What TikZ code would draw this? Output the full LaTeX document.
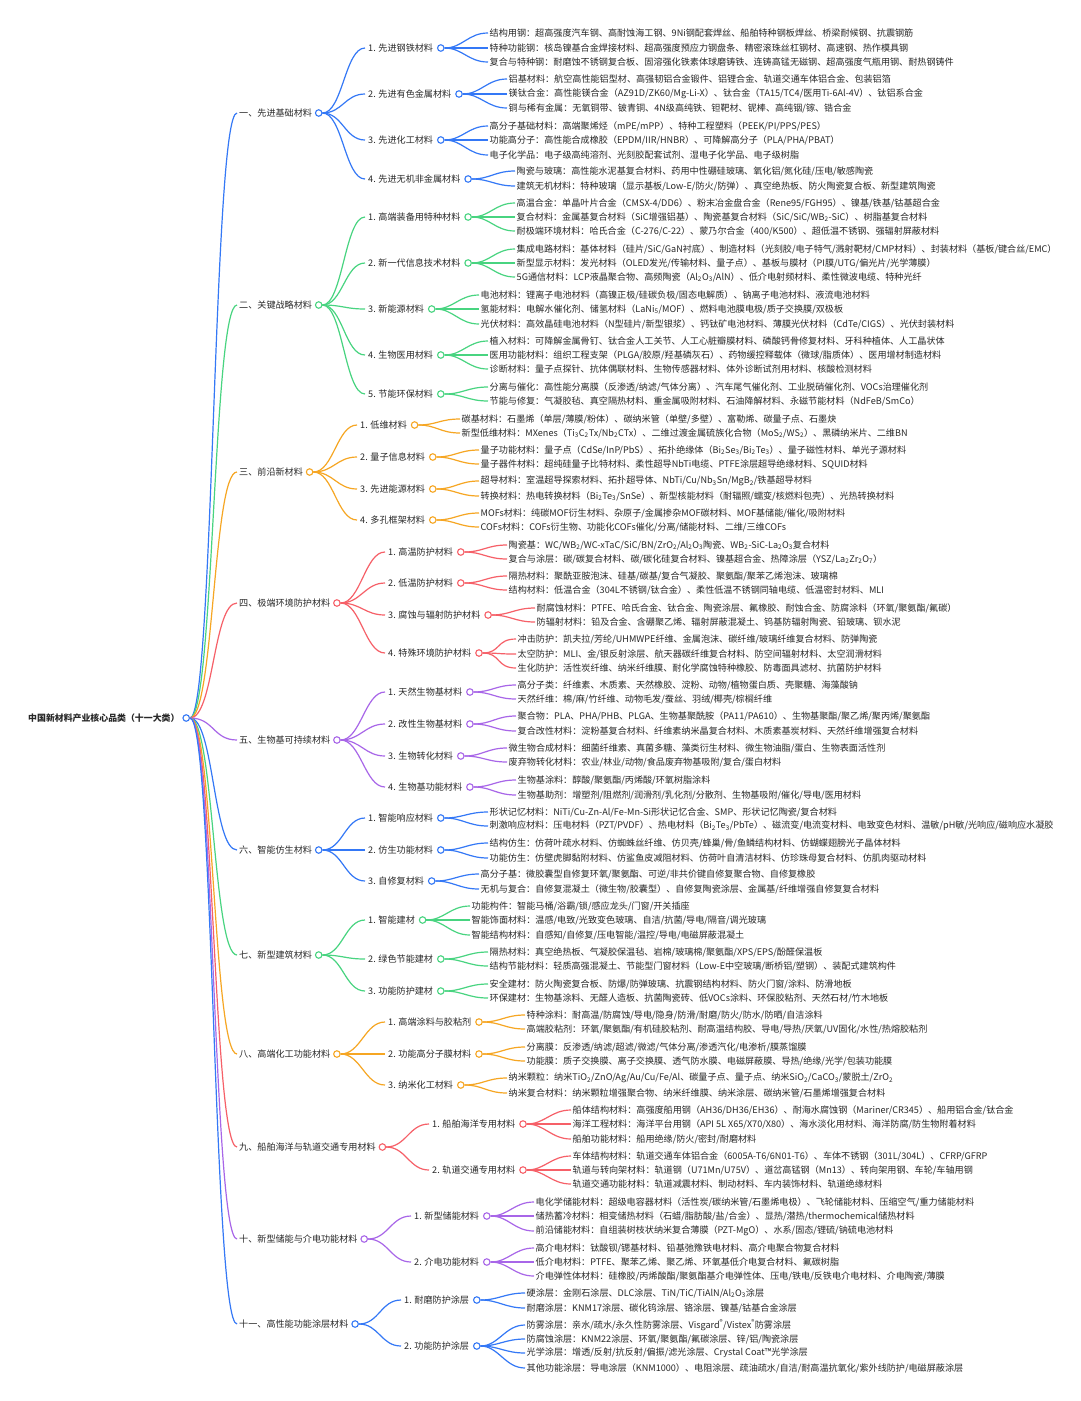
\documentclass[tikz,border=0pt]{standalone}
\usepackage{fontspec}
\setmainfont{Noto Sans CJK SC}
\definecolor{cb}{RGB}{52,120,246}
\definecolor{cg}{RGB}{72,212,128}
\definecolor{co}{RGB}{246,166,35}
\definecolor{cr}{RGB}{246,96,104}
\definecolor{cp}{RGB}{168,102,232}
\definecolor{txt}{RGB}{40,40,40}
\newcommand\sbs[1]{\textsubscript{#1}}
\newcommand\Lone[4]{%
  \node[lone] (#1) at (237,#2) {#3};
  \node[bdot=#4] (#1c) at ([xshift=4.5pt]#1.east) {};
  \draw[cline=#4] (rootc.east) to[out=0,in=180,out distance=24pt,in distance=24pt] (#1.west);
}
\newcommand\Ltwo[6]{%
  \node[ltwo] (#1) at (#3,#4) {#5};
  \node[bdot=#6] (#1c) at ([xshift=4.5pt]#1.east) {};
  \draw[cline=#6] (#2c.east) to[out=0,in=180,out distance=20pt,in distance=20pt] (#1.west);
}
\newcommand\Leaf[6]{%
  \node[lfnode] (#1) at (#3,#4) {#5};
  \draw[cline=#6] (#2c.east) to[out=0,in=180,out distance=18pt,in distance=20pt] (#1.west);
}
\begin{document}
\begin{tikzpicture}[x=1pt,y=-1pt,
  basefont/.style={font=\fontsize{9.1}{11}\selectfont, text=txt},
  lone/.style={basefont, anchor=west, inner sep=2pt},
  ltwo/.style={basefont, anchor=west, inner sep=3pt},
  lfnode/.style={basefont, anchor=west, inner sep=1.5pt},
  rootnode/.style={font=\fontsize{8.9}{11}\selectfont\bfseries, text=txt, anchor=west, inner sep=2pt},
  bdot/.style={circle, draw=#1, fill=white, line width=1.1pt, minimum size=6.5pt, inner sep=0pt},
  cline/.style={draw=#1, line width=1.2pt}]
\fill[white] (0,0) rectangle (1080,1401);
\useasboundingbox (0,0) rectangle (1080,1401);

\node[rootnode] (root) at (26,718) {中国新材料产业核心品类（十一大类）};
\node[bdot=cb] (rootc) at ([xshift=4.5pt]root.east) {};

% 一
\Lone{A}{113}{一、先进基础材料}{cb}
\Ltwo{A1}{A}{365}{48}{1. 先进钢铁材料}{cb}
\Leaf{A11}{A1}{488}{33}{结构用钢：超高强度汽车钢、高耐蚀海工钢、9Ni钢配套焊丝、船舶特种钢板焊丝、桥梁耐候钢、抗震钢筋}{cb}
\Leaf{A12}{A1}{488}{48}{特种功能钢：核岛镍基合金焊接材料、超高强度预应力钢盘条、精密滚珠丝杠钢材、高速钢、热作模具钢}{cb}
\Leaf{A13}{A1}{488}{62}{复合与特种钢：耐磨蚀不锈钢复合板、固溶强化铁素体球磨铸铁、连铸高锰无磁钢、超高强度气瓶用钢、耐热钢铸件}{cb}
\Ltwo{A2}{A}{365}{94}{2. 先进有色金属材料}{cb}
\Leaf{A21}{A2}{507}{79}{铝基材料：航空高性能铝型材、高强韧铝合金锻件、铝锂合金、轨道交通车体铝合金、包装铝箔}{cb}
\Leaf{A22}{A2}{507}{94}{镁钛合金：高性能镁合金（AZ91D/ZK60/Mg-Li-X）、钛合金（TA15/TC4/医用Ti-6Al-4V）、钛铝系合金}{cb}
\Leaf{A23}{A2}{507}{108}{铜与稀有金属：无氧铜带、铍青铜、4N级高纯铁、钽靶材、铌棒、高纯铟/镓、锆合金}{cb}
\Ltwo{A3}{A}{365}{140}{3. 先进化工材料}{cb}
\Leaf{A31}{A3}{488}{126}{高分子基础材料：高端聚烯烃（mPE/mPP）、特种工程塑料（PEEK/PI/PPS/PES）}{cb}
\Leaf{A32}{A3}{488}{140}{功能高分子：高性能合成橡胶（EPDM/IIR/HNBR）、可降解高分子（PLA/PHA/PBAT）}{cb}
\Leaf{A33}{A3}{488}{155}{电子化学品：电子级高纯溶剂、光刻胶配套试剂、湿电子化学品、电子级树脂}{cb}
\Ltwo{A4}{A}{365}{179}{4. 先进无机非金属材料}{cb}
\Leaf{A41}{A4}{515}{171}{陶瓷与玻璃：高性能水泥基复合材料、药用中性硼硅玻璃、氧化铝/氮化硅/压电/敏感陶瓷}{cb}
\Leaf{A42}{A4}{515}{186}{建筑无机材料：特种玻璃（显示基板/Low-E/防火/防弹）、真空绝热板、防火陶瓷复合板、新型建筑陶瓷}{cb}

% 二
\Lone{B}{305}{二、关键战略材料}{cg}
\Ltwo{B1}{B}{365}{217}{1. 高端装备用特种材料}{cg}
\Leaf{B11}{B1}{515}{203}{高温合金：单晶叶片合金（CMSX-4/DD6）、粉末冶金盘合金（Rene95/FGH95）、镍基/铁基/钴基超合金}{cg}
\Leaf{B12}{B1}{515}{217}{复合材料：金属基复合材料（SiC增强铝基）、陶瓷基复合材料（SiC/SiC/WB\sbs{2}-SiC）、树脂基复合材料}{cg}
\Leaf{B13}{B1}{515}{231}{耐极端环境材料：哈氏合金（C-276/C-22）、蒙乃尔合金（400/K500）、超低温不锈钢、强辐射屏蔽材料}{cg}
\Ltwo{B2}{B}{365}{263}{2. 新一代信息技术材料}{cg}
\Leaf{B21}{B2}{515}{249}{集成电路材料：基体材料（硅片/SiC/GaN衬底）、制造材料（光刻胶/电子特气/溅射靶材/CMP材料）、封装材料（基板/键合丝/EMC）}{cg}
\Leaf{B22}{B2}{515}{263}{新型显示材料：发光材料（OLED发光/传输材料、量子点）、基板与膜材（PI膜/UTG/偏光片/光学薄膜）}{cg}
\Leaf{B23}{B2}{515}{277}{5G通信材料：LCP液晶聚合物、高频陶瓷（Al\sbs{2}O\sbs{3}/AlN）、低介电射频材料、柔性微波电缆、特种光纤}{cg}
\Ltwo{B3}{B}{365}{309}{3. 新能源材料}{cg}
\Leaf{B31}{B3}{479}{295}{电池材料：锂离子电池材料（高镍正极/硅碳负极/固态电解质）、钠离子电池材料、液流电池材料}{cg}
\Leaf{B32}{B3}{479}{309}{氢能材料：电解水催化剂、储氢材料（LaNi\sbs{5}/MOF）、燃料电池膜电极/质子交换膜/双极板}{cg}
\Leaf{B33}{B3}{479}{324}{光伏材料：高效晶硅电池材料（N型硅片/新型银浆）、钙钛矿电池材料、薄膜光伏材料（CdTe/CIGS）、光伏封装材料}{cg}
\Ltwo{B4}{B}{365}{355}{4. 生物医用材料}{cg}
\Leaf{B41}{B4}{488}{341}{植入材料：可降解金属骨钉、钛合金人工关节、人工心脏瓣膜材料、磷酸钙骨修复材料、牙科种植体、人工晶状体}{cg}
\Leaf{B42}{B4}{488}{355}{医用功能材料：组织工程支架（PLGA/胶原/羟基磷灰石）、药物缓控释载体（微球/脂质体）、医用增材制造材料}{cg}
\Leaf{B43}{B4}{488}{369}{诊断材料：量子点探针、抗体偶联材料、生物传感器材料、体外诊断试剂用材料、核酸检测材料}{cg}
\Ltwo{B5}{B}{365}{394}{5. 节能环保材料}{cg}
\Leaf{B51}{B5}{488}{387}{分离与催化：高性能分离膜（反渗透/纳滤/气体分离）、汽车尾气催化剂、工业脱硝催化剂、VOCs治理催化剂}{cg}
\Leaf{B52}{B5}{488}{401}{节能与修复：气凝胶毡、真空隔热材料、重金属吸附材料、石油降解材料、永磁节能材料（NdFeB/SmCo）}{cg}

% 三
\Lone{C}{472}{三、前沿新材料}{co}
\Ltwo{C1}{C}{357}{425}{1. 低维材料}{co}
\Leaf{C11}{C1}{460}{419}{碳基材料：石墨烯（单层/薄膜/粉体）、碳纳米管（单壁/多壁）、富勒烯、碳量子点、石墨炔}{co}
\Leaf{C12}{C1}{460}{433}{新型低维材料：MXenes（Ti\sbs{3}C\sbs{2}Tx/Nb\sbs{2}CTx）、二维过渡金属硫族化合物（MoS\sbs{2}/WS\sbs{2}）、黑磷纳米片、二维BN}{co}
\Ltwo{C2}{C}{357}{457}{2. 量子信息材料}{co}
\Leaf{C21}{C2}{479}{450}{量子功能材料：量子点（CdSe/InP/PbS）、拓扑绝缘体（Bi\sbs{2}Se\sbs{3}/Bi\sbs{2}Te\sbs{3}）、量子磁性材料、单光子源材料}{co}
\Leaf{C22}{C2}{479}{464}{量子器件材料：超纯硅量子比特材料、柔性超导NbTi电缆、PTFE涂层超导绝缘材料、SQUID材料}{co}
\Ltwo{C3}{C}{357}{489}{3. 先进能源材料}{co}
\Leaf{C31}{C3}{479}{481}{超导材料：室温超导探索材料、拓扑超导体、NbTi/Cu/Nb\sbs{3}Sn/MgB\sbs{2}/铁基超导材料}{co}
\Leaf{C32}{C3}{479}{496}{转换材料：热电转换材料（Bi\sbs{2}Te\sbs{3}/SnSe）、新型核能材料（耐辐照/蠕变/核燃料包壳）、光热转换材料}{co}
\Ltwo{C4}{C}{357}{520}{4. 多孔框架材料}{co}
\Leaf{C41}{C4}{479}{513}{MOFs材料：纯碳MOF衍生材料、杂原子/金属掺杂MOF碳材料、MOF基储能/催化/吸附材料}{co}
\Leaf{C42}{C4}{479}{527}{COFs材料：COFs衍生物、功能化COFs催化/分离/储能材料、二维/三维COFs}{co}

% 四
\Lone{D}{603}{四、极端环境防护材料}{cr}
\Ltwo{D1}{D}{385}{552}{1. 高温防护材料}{cr}
\Leaf{D11}{D1}{507}{545}{陶瓷基：WC/WB\sbs{2}/WC-xTaC/SiC/BN/ZrO\sbs{2}/Al\sbs{2}O\sbs{3}陶瓷、WB\sbs{2}-SiC-La\sbs{2}O\sbs{3}复合材料}{cr}
\Leaf{D12}{D1}{507}{559}{复合与涂层：碳/碳复合材料、碳/碳化硅复合材料、镍基超合金、热障涂层（YSZ/La\sbs{2}Zr\sbs{2}O\sbs{7}）}{cr}
\Ltwo{D2}{D}{385}{583}{2. 低温防护材料}{cr}
\Leaf{D21}{D2}{507}{576}{隔热材料：聚酰亚胺泡沫、硅基/碳基/复合气凝胶、聚氨酯/聚苯乙烯泡沫、玻璃棉}{cr}
\Leaf{D22}{D2}{507}{590}{结构材料：低温合金（304L不锈钢/钛合金）、柔性低温不锈钢同轴电缆、低温密封材料、MLI}{cr}
\Ltwo{D3}{D}{385}{615}{3. 腐蚀与辐射防护材料}{cr}
\Leaf{D31}{D3}{535}{608}{耐腐蚀材料：PTFE、哈氏合金、钛合金、陶瓷涂层、氟橡胶、耐蚀合金、防腐涂料（环氧/聚氨酯/氟碳）}{cr}
\Leaf{D32}{D3}{535}{622}{防辐射材料：铅及合金、含硼聚乙烯、辐射屏蔽混凝土、钨基防辐射陶瓷、铅玻璃、钡水泥}{cr}
\Ltwo{D4}{D}{385}{653}{4. 特殊环境防护材料}{cr}
\Leaf{D41}{D4}{516}{639}{冲击防护：凯夫拉/芳纶/UHMWPE纤维、金属泡沫、碳纤维/玻璃纤维复合材料、防弹陶瓷}{cr}
\Leaf{D42}{D4}{516}{654}{太空防护：MLI、金/银反射涂层、航天器碳纤维复合材料、防空间辐射材料、太空润滑材料}{cr}
\Leaf{D43}{D4}{516}{668}{生化防护：活性炭纤维、纳米纤维膜、耐化学腐蚀特种橡胶、防毒面具滤材、抗菌防护材料}{cr}

% 五
\Lone{E}{740}{五、生物基可持续材料}{cp}
\Ltwo{E1}{E}{385}{692}{1. 天然生物基材料}{cp}
\Leaf{E11}{E1}{516}{685}{高分子类：纤维素、木质素、天然橡胶、淀粉、动物/植物蛋白质、壳聚糖、海藻酸钠}{cp}
\Leaf{E12}{E1}{516}{699}{天然纤维：棉/麻/竹纤维、动物毛发/蚕丝、羽绒/椰壳/棕榈纤维}{cp}
\Ltwo{E2}{E}{385}{724}{2. 改性生物基材料}{cp}
\Leaf{E21}{E2}{516}{716}{聚合物：PLA、PHA/PHB、PLGA、生物基聚酰胺（PA11/PA610）、生物基聚酯/聚乙烯/聚丙烯/聚氨酯}{cp}
\Leaf{E22}{E2}{516}{731}{复合改性材料：淀粉基复合材料、纤维素纳米晶复合材料、木质素基炭材料、天然纤维增强复合材料}{cp}
\Ltwo{E3}{E}{385}{756}{3. 生物转化材料}{cp}
\Leaf{E31}{E3}{507}{748}{微生物合成材料：细菌纤维素、真菌多糖、藻类衍生材料、微生物油脂/蛋白、生物表面活性剂}{cp}
\Leaf{E32}{E3}{507}{762}{废弃物转化材料：农业/林业/动物/食品废弃物基吸附/复合/蛋白材料}{cp}
\Ltwo{E4}{E}{385}{787}{4. 生物基功能材料}{cp}
\Leaf{E41}{E4}{516}{780}{生物基涂料：醇酸/聚氨酯/丙烯酸/环氧树脂涂料}{cp}
\Leaf{E42}{E4}{516}{795}{生物基助剂：增塑剂/阻燃剂/润滑剂/乳化剂/分散剂、生物基吸附/催化/导电/医用材料}{cp}

% 六
\Lone{F}{850}{六、智能仿生材料}{cb}
\Ltwo{F1}{F}{365}{818}{1. 智能响应材料}{cb}
\Leaf{F11}{F1}{488}{812}{形状记忆材料：NiTi/Cu-Zn-Al/Fe-Mn-Si形状记忆合金、SMP、形状记忆陶瓷/复合材料}{cb}
\Leaf{F12}{F1}{488}{826}{刺激响应材料：压电材料（PZT/PVDF）、热电材料（Bi\sbs{2}Te\sbs{3}/PbTe）、磁流变/电流变材料、电致变色材料、温敏/pH敏/光响应/磁响应水凝胶}{cb}
\Ltwo{F2}{F}{365}{850}{2. 仿生功能材料}{cb}
\Leaf{F21}{F2}{488}{843}{结构仿生：仿荷叶疏水材料、仿蜘蛛丝纤维、仿贝壳/蜂巢/骨/鱼鳞结构材料、仿蝴蝶翅膀光子晶体材料}{cb}
\Leaf{F22}{F2}{488}{858}{功能仿生：仿壁虎脚黏附材料、仿鲨鱼皮减阻材料、仿荷叶自清洁材料、仿珍珠母复合材料、仿肌肉驱动材料}{cb}
\Ltwo{F3}{F}{365}{881}{3. 自修复材料}{cb}
\Leaf{F31}{F3}{479}{874}{高分子基：微胶囊型自修复环氧/聚氨酯、可逆/非共价键自修复聚合物、自修复橡胶}{cb}
\Leaf{F32}{F3}{479}{889}{无机与复合：自修复混凝土（微生物/胶囊型）、自修复陶瓷涂层、金属基/纤维增强自修复复合材料}{cb}

% 七
\Lone{G}{955}{七、新型建筑材料}{cg}
\Ltwo{G1}{G}{365}{920}{1. 智能建材}{cg}
\Leaf{G11}{G1}{470}{906}{功能构件：智能马桶/浴霸/锁/感应龙头/门窗/开关插座}{cg}
\Leaf{G12}{G1}{470}{920}{智能饰面材料：温感/电致/光致变色玻璃、自洁/抗菌/导电/隔音/调光玻璃}{cg}
\Leaf{G13}{G1}{470}{935}{智能结构材料：自感知/自修复/压电智能/温控/导电/电磁屏蔽混凝土}{cg}
\Ltwo{G2}{G}{365}{959}{2. 绿色节能建材}{cg}
\Leaf{G21}{G2}{488}{952}{隔热材料：真空绝热板、气凝胶保温毡、岩棉/玻璃棉/聚氨酯/XPS/EPS/酚醛保温板}{cg}
\Leaf{G22}{G2}{488}{966}{结构节能材料：轻质高强混凝土、节能型门窗材料（Low-E中空玻璃/断桥铝/塑钢）、装配式建筑构件}{cg}
\Ltwo{G3}{G}{365}{991}{3. 功能防护建材}{cg}
\Leaf{G31}{G3}{488}{984}{安全建材：防火陶瓷复合板、防爆/防弹玻璃、抗震钢结构材料、防火门窗/涂料、防滑地板}{cg}
\Leaf{G32}{G3}{488}{998}{环保建材：生物基涂料、无醛人造板、抗菌陶瓷砖、低VOCs涂料、环保胶粘剂、天然石材/竹木地板}{cg}

% 八
\Lone{H}{1054}{八、高端化工功能材料}{co}
\Ltwo{H1}{H}{385}{1022}{1. 高端涂料与胶粘剂}{co}
\Leaf{H11}{H1}{525}{1015}{特种涂料：耐高温/防腐蚀/导电/隐身/防滑/耐磨/防火/防水/防晒/自洁涂料}{co}
\Leaf{H12}{H1}{525}{1029}{高端胶粘剂：环氧/聚氨酯/有机硅胶粘剂、耐高温结构胶、导电/导热/厌氧/UV固化/水性/热熔胶粘剂}{co}
\Ltwo{H2}{H}{385}{1054}{2. 功能高分子膜材料}{co}
\Leaf{H21}{H2}{525}{1047}{分离膜：反渗透/纳滤/超滤/微滤/气体分离/渗透汽化/电渗析/膜蒸馏膜}{co}
\Leaf{H22}{H2}{525}{1061}{功能膜：质子交换膜、离子交换膜、透气防水膜、电磁屏蔽膜、导热/绝缘/光学/包装功能膜}{co}
\Ltwo{H3}{H}{385}{1085}{3. 纳米化工材料}{co}
\Leaf{H31}{H3}{507}{1078}{纳米颗粒：纳米TiO\sbs{2}/ZnO/Ag/Au/Cu/Fe/Al、碳量子点、量子点、纳米SiO\sbs{2}/CaCO\sbs{3}/蒙脱土/ZrO\sbs{2}}{co}
\Leaf{H32}{H3}{507}{1093}{纳米复合材料：纳米颗粒增强聚合物、纳米纤维膜、纳米涂层、碳纳米管/石墨烯增强复合材料}{co}

% 九
\Lone{I}{1147}{九、船舶海洋与轨道交通专用材料}{cr}
\Ltwo{I1}{I}{429}{1124}{1. 船舶海洋专用材料}{cr}
\Leaf{I11}{I1}{571}{1110}{船体结构材料：高强度船用钢（AH36/DH36/EH36）、耐海水腐蚀钢（Mariner/CR345）、船用铝合金/钛合金}{cr}
\Leaf{I12}{I1}{571}{1124}{海洋工程材料：海洋平台用钢（API 5L X65/X70/X80）、海水淡化用材料、海洋防腐/防生物附着材料}{cr}
\Leaf{I13}{I1}{571}{1139}{船舶功能材料：船用绝缘/防火/密封/耐磨材料}{cr}
\Ltwo{I2}{I}{429}{1170}{2. 轨道交通专用材料}{cr}
\Leaf{I21}{I2}{571}{1156}{车体结构材料：轨道交通车体铝合金（6005A-T6/6N01-T6）、车体不锈钢（301L/304L）、CFRP/GFRP}{cr}
\Leaf{I22}{I2}{571}{1170}{轨道与转向架材料：轨道钢（U71Mn/U75V）、道岔高锰钢（Mn13）、转向架用钢、车轮/车轴用钢}{cr}
\Leaf{I23}{I2}{571}{1184}{轨道交通功能材料：轨道减震材料、制动材料、车内装饰材料、轨道绝缘材料}{cr}

% 十
\Lone{J}{1239}{十、新型储能与介电功能材料}{cp}
\Ltwo{J1}{J}{411}{1216}{1. 新型储能材料}{cp}
\Leaf{J11}{J1}{534}{1202}{电化学储能材料：超级电容器材料（活性炭/碳纳米管/石墨烯电极）、飞轮储能材料、压缩空气/重力储能材料}{cp}
\Leaf{J12}{J1}{534}{1216}{储热蓄冷材料：相变储热材料（石蜡/脂肪酸/盐/合金）、显热/潜热/thermochemical储热材料}{cp}
\Leaf{J13}{J1}{534}{1231}{前沿储能材料：自组装树枝状纳米复合薄膜（PZT-MgO）、水系/固态/锂硫/钠硫电池材料}{cp}
\Ltwo{J2}{J}{411}{1262}{2. 介电功能材料}{cp}
\Leaf{J21}{J2}{534}{1248}{高介电材料：钛酸钡/锶基材料、铅基弛豫铁电材料、高介电聚合物复合材料}{cp}
\Leaf{J22}{J2}{534}{1262}{低介电材料：PTFE、聚苯乙烯、聚乙烯、环氧基低介电复合材料、氟碳树脂}{cp}
\Leaf{J23}{J2}{534}{1276}{介电弹性体材料：硅橡胶/丙烯酸酯/聚氨酯基介电弹性体、压电/铁电/反铁电介电材料、介电陶瓷/薄膜}{cp}

% 十一
\Lone{K}{1324}{十一、高性能功能涂层材料}{cb}
\Ltwo{K1}{K}{401}{1300}{1. 耐磨防护涂层}{cb}
\Leaf{K11}{K1}{525}{1293}{硬涂层：金刚石涂层、DLC涂层、TiN/TiC/TiAlN/Al\sbs{2}O\sbs{3}涂层}{cb}
\Leaf{K12}{K1}{525}{1308}{耐磨涂层：KNM17涂层、碳化钨涂层、铬涂层、镍基/钴基合金涂层}{cb}
\Ltwo{K2}{K}{401}{1346}{2. 功能防护涂层}{cb}
\Leaf{K21}{K2}{525}{1325}{防雾涂层：亲水/疏水/永久性防雾涂层、Visgard\textsuperscript{®}/Vistex\textsuperscript{®}防雾涂层}{cb}
\Leaf{K22}{K2}{525}{1339}{防腐蚀涂层：KNM22涂层、环氧/聚氨酯/氟碳涂层、锌/铝/陶瓷涂层}{cb}
\Leaf{K23}{K2}{525}{1353}{光学涂层：增透/反射/抗反射/偏振/滤光涂层、Crystal Coat™光学涂层}{cb}
\Leaf{K24}{K2}{525}{1368}{其他功能涂层：导电涂层（KNM1000）、电阻涂层、疏油疏水/自洁/耐高温抗氧化/紫外线防护/电磁屏蔽涂层}{cb}
\end{tikzpicture}
\end{document}
